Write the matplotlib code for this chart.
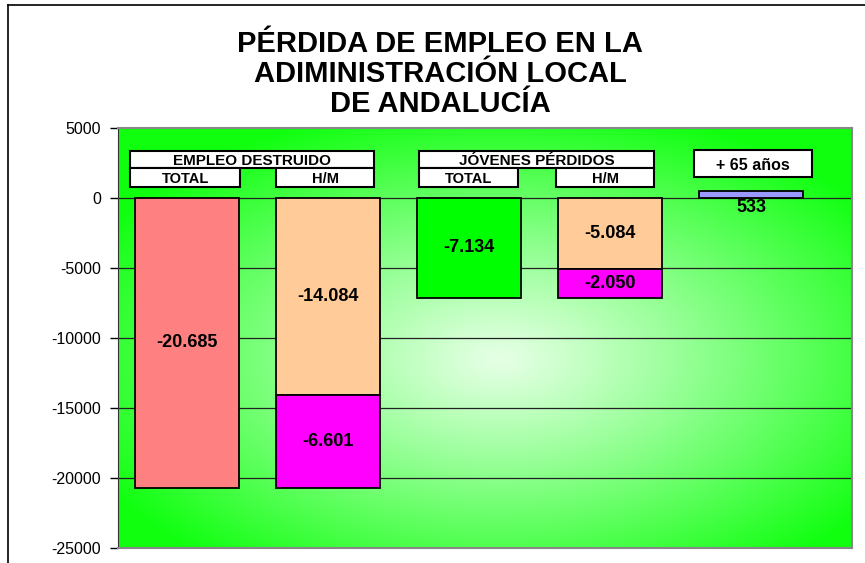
import numpy as np
import matplotlib
matplotlib.use("Agg")
import matplotlib.pyplot as plt
from matplotlib.patches import Rectangle
from matplotlib.lines import Line2D

# ---- data ----
title = "PÉRDIDA DE EMPLEO EN LA\nADIMINISTRACIÓN LOCAL\nDE ANDALUCÍA"
positions = [0, 1, 2, 3, 4]
seg1_values = [-20685, -14084, -7134, -5084, 533]
seg1_labels = ["-20.685", "-14.084", "-7.134", "-5.084", "533"]
seg1_colors = ["#FF8080", "#FFCC99", "#00FF00", "#FFCC99", "#9999FF"]
seg2_values = [0, -6601, 0, -2050, 0]
seg2_labels = ["", "-6.601", "", "-2.050", ""]
seg2_color = "#FF00FF"
group_labels = ["EMPLEO DESTRUIDO", "JÓVENES PÉRDIDOS"]
sub_labels = ["TOTAL", "H/M", "TOTAL", "H/M"]
extra_label = "+ 65 años"
yticks = [5000, 0, -5000, -10000, -15000, -20000, -25000]

W, H = 865, 563
fig = plt.figure(figsize=(W / 100, H / 100), dpi=100)
ax = fig.add_axes([118 / W, 1 - 548 / H, (852 - 118) / W, (548 - 128) / H])

xlim = (-0.49, 4.715)
ylim = (-25000, 5000)

# radial gradient background
ny, nx = 300, 500
yy, xx = np.mgrid[0:1:ny * 1j, 0:1:nx * 1j]
cx, cy = 0.52, 0.45
r = np.sqrt(((xx - cx) / 0.62) ** 2 + ((yy - cy) / 0.62) ** 2)
t = np.clip(r, 0, 1) ** 1.1
white = np.array([0.90, 1.0, 0.90])
green = np.array([0.06, 1.0, 0.06])
img = white[None, None, :] * (1 - t[..., None]) + green[None, None, :] * t[..., None]
ax.imshow(img, extent=[0, 1, 0, 1], transform=ax.transAxes, aspect="auto",
          origin="lower", zorder=0, interpolation="bilinear")
ax.set_xlim(*xlim)
ax.set_ylim(*ylim)

# grid
for v in yticks[1:-1]:
    ax.axhline(v, color="#222222", lw=0.9, zorder=1)

bw = 0.74
bars1 = ax.bar(positions, seg1_values, width=bw, color=seg1_colors,
               edgecolor="black", linewidth=1.3, zorder=3)
bars2 = ax.bar(positions, seg2_values, width=bw,
               bottom=[v if s else 0 for v, s in zip(seg1_values, seg2_values)],
               color=seg2_color, edgecolor="black", linewidth=1.3, zorder=3)
for b, v in zip(bars2, seg2_values):
    if v == 0:
        b.set_visible(False)

fam = ["Liberation Sans", "DejaVu Sans"]
lab_kw = dict(ha="center", va="center", fontsize=13, fontweight="bold",
              family=fam, zorder=5)
for p, v, l in zip(positions, seg1_values, seg1_labels):
    if v < 0:
        ax.text(p, v / 2, l, **lab_kw)
    else:
        ax.text(p, -650, l, **lab_kw)
for p, v0, v, l in zip(positions, seg1_values, seg2_values, seg2_labels):
    if v:
        ax.text(p, v0 + v / 2, l, **lab_kw)

# header boxes
def box(x0, x1, y0, y1, text, fs=10.5):
    ax.add_patch(Rectangle((x0, y0), x1 - x0, y1 - y0, facecolor="white",
                           edgecolor="black", lw=1.5, zorder=4))
    ax.text((x0 + x1) / 2, (y0 + y1) / 2, text, ha="center", va="center_baseline",
            fontsize=fs, fontweight="bold", family=fam, zorder=5)

def px2x(px):
    return (px - 187) / 141.0

def py2y(py):
    return (198 - py) / 14.0 * 1000

box(px2x(130), px2x(374), py2y(168), py2y(151), group_labels[0], fs=11)
box(px2x(130), px2x(240), py2y(187), py2y(168), sub_labels[0], fs=10.5)
box(px2x(276), px2x(374), py2y(187), py2y(168), sub_labels[1], fs=10.5)
box(px2x(419), px2x(654), py2y(168), py2y(151), group_labels[1], fs=11)
box(px2x(419), px2x(518), py2y(187), py2y(168), sub_labels[2], fs=10.5)
box(px2x(556), px2x(654), py2y(187), py2y(168), sub_labels[3], fs=10.5)
box(px2x(694), px2x(812), py2y(177), py2y(150), extra_label, fs=11.5)

# axes styling
ax.set_yticks(yticks)
ax.set_yticklabels([str(v) for v in yticks], fontsize=11.5, family=fam)
ax.set_xticks([])
ax.tick_params(axis="y", direction="out", length=6, width=1, color="black", pad=6)
ax.spines["left"].set_color("#333333")
for s in ["top", "right", "bottom"]:
    ax.spines[s].set_color("#888888")
    ax.spines[s].set_linewidth(1.5)

# title
fig.text(440 / W, 1 - 74 / H, title, ha="center", va="center", fontsize=21,
         fontweight="bold", linespacing=1.1,
         family=["Liberation Sans Narrow", "Liberation Sans", "DejaVu Sans"])

# outer frame lines (cropped chart border)
fig.add_artist(Line2D([8 / W, 8 / W], [0, 1 - 5 / H], color="black", lw=1.2))
fig.add_artist(Line2D([8 / W, 1], [1 - 5 / H, 1 - 5 / H], color="black", lw=1.2))

fig.savefig("out.png", dpi=100)
